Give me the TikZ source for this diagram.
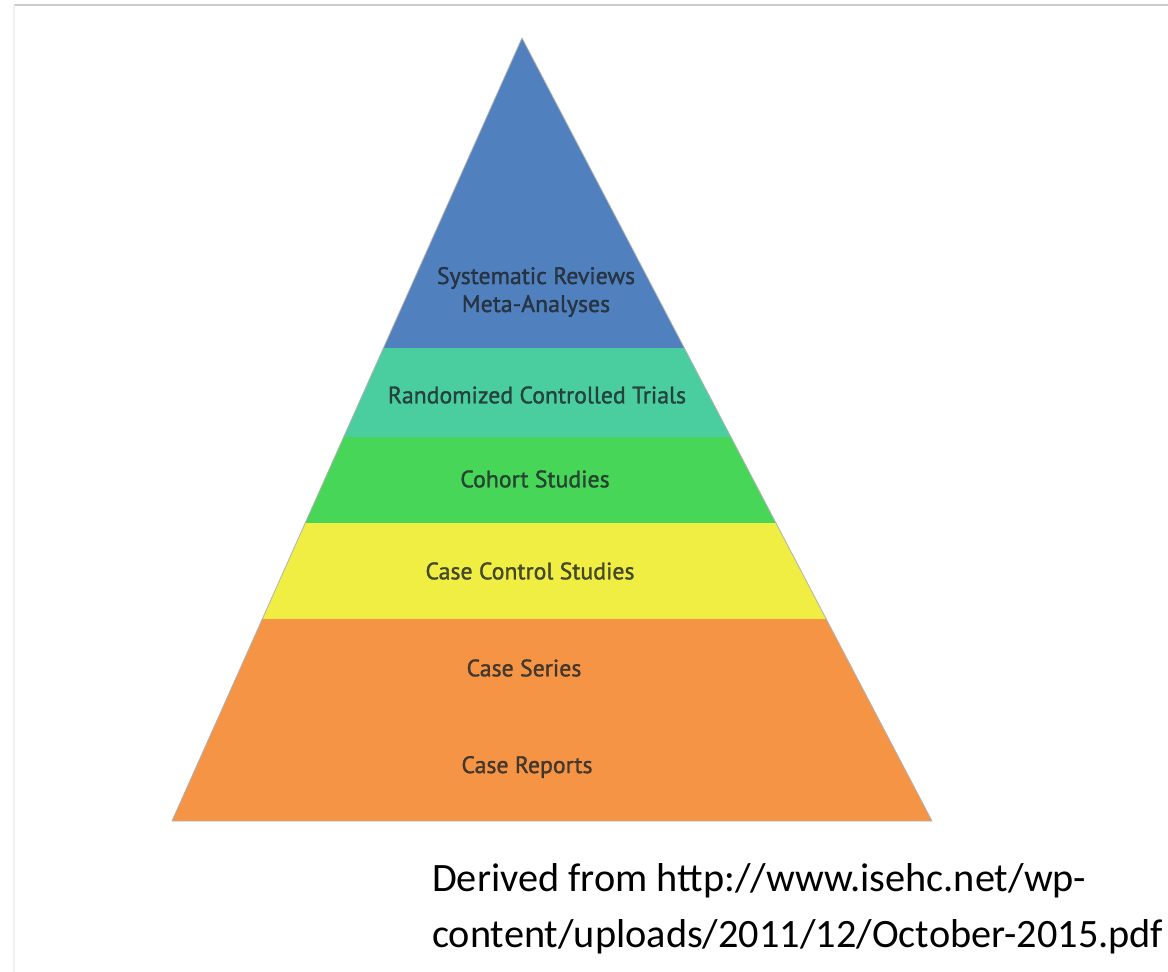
\documentclass[tikz,border=0pt]{standalone}
\usepackage{fontspec}
\setmainfont{Carlito}
\newfontfamily\tierfont[FakeBold=1.2]{PT Sans}
\definecolor{tierblue}{RGB}{80,128,190}
\definecolor{tierteal}{RGB}{74,206,160}
\definecolor{tiergreen}{RGB}{72,214,88}
\definecolor{tieryellow}{RGB}{240,238,66}
\definecolor{tierorange}{RGB}{244,148,68}
\definecolor{tiertext}{RGB}{30,36,40}
\tikzset{
	tier/.style={ inner sep=0pt, align=center, text=tiertext, text opacity=0.8, font=\tierfont\fontsize{23.8}{28}\selectfont },
	source/.style={ inner sep=0pt, anchor=base west, font=\fontsize{40.3}{56}\selectfont }
}

\begin{document}
\begin{tikzpicture}[ x=1pt, y=-1pt ]

	\useasboundingbox (0, 0) rectangle (1168, 972);
	\draw[ black!20, line width=1.2 ] (14, 5) -- (1168, 5);
	\draw[ black!6, line width=1.2 ] (14, 5) -- (14, 972);

	\def\apexx{522}
	\def\apexy{38}
	\def\basey{821}
	\def\leftx{172}
	\def\rightx{932}

	% bands of the pyramid, top to bottom
	\foreach \ytop/\ybot/\col in {38/348/tierblue, 348/437/tierteal, 437/523/tiergreen, 523/619/tieryellow, 619/821/tierorange} {
		\pgfmathsetmacro{\ft}{(\ytop-\apexy)/(\basey-\apexy)}
		\pgfmathsetmacro{\fb}{(\ybot-\apexy)/(\basey-\apexy)}
		\pgfmathsetmacro{\lt}{\apexx-\ft*(\apexx-\leftx)}
		\pgfmathsetmacro{\rt}{\apexx+\ft*(\rightx-\apexx)}
		\pgfmathsetmacro{\lb}{\apexx-\fb*(\apexx-\leftx)}
		\pgfmathsetmacro{\rb}{\apexx+\fb*(\rightx-\apexx)}
		\fill[ \col ] (\lt, \ytop) -- (\rt, \ytop) -- (\rb, \ybot) -- (\lb, \ybot) -- cycle;
	}
	\draw[ black!30, line width=0.8, line join=round ] (\apexx, \apexy) -- (\rightx, \basey) -- (\leftx, \basey) -- cycle;

	\node[ tier ] (sysrev) at (536, 292) {Systematic Reviews\\Meta-Analyses};
	\node[ tier ] (rct) at (537, 395) {Randomized Controlled Trials};
	\node[ tier ] (cohort) at (535, 479) {Cohort Studies};
	\node[ tier ] (casecontrol) at (530, 571) {Case Control Studies};
	\node[ tier ] (series) at (524, 668) {Case Series};
	\node[ tier ] (reports) at (527, 767) {Case Reports};

	\node[ source ] (srcone) at (432, 891) {Derived from http://www.isehc.net/wp-};
	\node[ source ] (srctwo) at (432, 947) {content/uploads/2011/12/October-2015.pdf};

\end{tikzpicture}
\end{document}
